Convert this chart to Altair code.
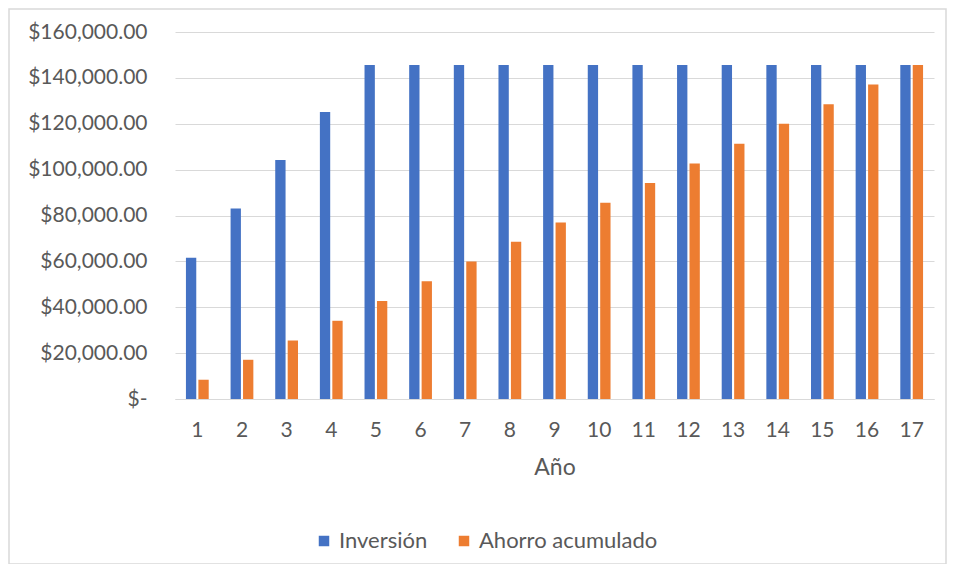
import altair as alt
import pandas as pd

years = list(range(1, 18))
inversion = [61600, 83100, 104200, 125100] + [145600] * 13
ahorro = [8400, 17100, 25500, 34100, 42700, 51300, 59900, 68600, 77000,
          85600, 94200, 102700, 111300, 120000, 128500, 137100, 145600]
series = ["Inversión", "Ahorro acumulado"]
colors = ["#4472C4", "#ED7D31"]
y_ticks = [0, 20000, 40000, 60000, 80000, 100000, 120000, 140000, 160000]

rows = []
for i, yr in enumerate(years):
    rows.append({"Año": yr, "Serie": series[0], "Valor": inversion[i]})
    rows.append({"Año": yr, "Serie": series[1], "Valor": ahorro[i]})
df = pd.DataFrame(rows)

FONT = "Lato"
GREY = "#595959"

bars = alt.Chart(df).mark_bar().encode(
    x=alt.X("Año:O",
            scale=alt.Scale(paddingInner=0.49, paddingOuter=0.245),
            axis=alt.Axis(labelAngle=0, title="Año", ticks=False, domain=True,
                          domainColor="#d9d9d9", labelPadding=20, titlePadding=16,
                          labelFontSize=21, titleFontSize=23, titleFontWeight="normal",
                          labelColor=GREY, titleColor=GREY, labelFont=FONT, titleFont=FONT)),
    xOffset=alt.XOffset("Serie:N", sort=series,
                        scale=alt.Scale(paddingInner=0.17, paddingOuter=0)),
    y=alt.Y("Valor:Q",
            scale=alt.Scale(domain=[0, 160000], nice=False),
            axis=alt.Axis(values=y_ticks, title=None, ticks=False, domain=False,
                          gridColor="#d9d9d9", gridWidth=1.2,
                          labelExpr="datum.value == 0 ? '$-\u00a0\u00a0\u00a0' : '$' + format(datum.value, ',.2f')",
                          labelPadding=28, labelFontSize=21, labelColor=GREY, labelFont=FONT)),
    color=alt.Color("Serie:N", sort=series,
                    scale=alt.Scale(domain=series, range=colors),
                    legend=alt.Legend(title=None, orient="none", legendX=138, legendY=498,
                                      direction="horizontal", symbolType="square",
                                      symbolSize=110, symbolStrokeWidth=0,
                                      labelFontSize=22, labelColor=GREY, labelFont=FONT,
                                      labelLimit=400, labelOffset=4, columnPadding=25)),
)

frame = alt.Chart(alt.Data(values=[{}])).mark_rect(
    fillOpacity=0, stroke="#d9d9d9", strokeWidth=1.5
).encode(
    x=alt.value(-166), x2=alt.value(771), y=alt.value(-23), y2=alt.value(532)
)

chart = alt.layer(frame, bars).properties(
    width=759, height=367,
    padding={"left": 167, "top": 24, "right": 21, "bottom": 165},
    autosize=alt.AutoSizeParams(type="none"),
).configure_view(stroke=None)

chart.save("out.html", embed_options={"renderer": "svg", "actions": False})
